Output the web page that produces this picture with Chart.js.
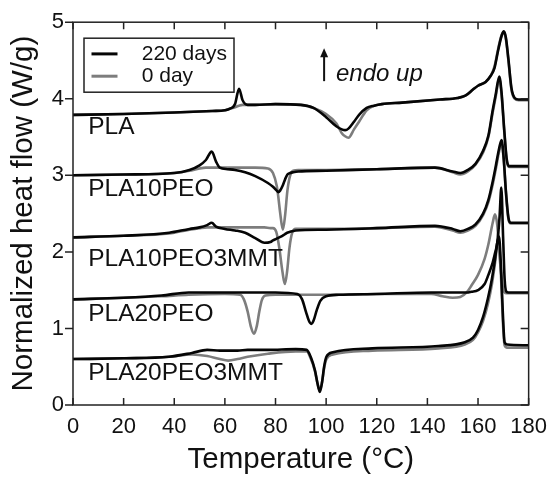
<!DOCTYPE html>
<html>
<head>
<meta charset="utf-8">
<script src="https://cdn.jsdelivr.net/npm/chart.js@4"></script>
<style>
  html, body { margin: 0; padding: 0; background: #fff; }
</style>
</head>
<body>
<canvas id="chart" width="556" height="478"></canvas>
<script>
// DSC 曲線資料 (溫度 °C / heat flow W/g)
const legendLabels = ['220 days', '0 day']
const sampleNames = ['PLA', 'PLA10PEO', 'PLA10PEO3MMT', 'PLA20PEO', 'PLA20PEO3MMT']

const tPLA = [0, 20, 40, 55, 60, 62, 64, 65.6, 67, 69, 72, 80, 90, 95, 100, 104, 106.2, 107.5, 108.8, 111,
  113, 116, 119, 122, 130, 145, 152, 155, 158, 160, 163, 165, 166.5, 168, 169.3, 170.2, 171, 172, 173.2, 174.5, 176, 180]
const pla220 = [3.79, 3.80, 3.82, 3.84, 3.85, 3.87, 3.93, 4.13, 3.98, 3.92, 3.92, 3.93, 3.92, 3.88, 3.76, 3.64, 3.60, 3.59, 3.61, 3.70,
  3.79, 3.88, 3.91, 3.93, 3.95, 3.99, 4.01, 4.04, 4.12, 4.17, 4.22, 4.30, 4.40, 4.64, 4.82, 4.88, 4.80, 4.52, 4.14, 4.01, 3.99, 3.99]
const pla0 = [3.79, 3.80, 3.82, 3.84, 3.85, 3.87, 3.89, 3.91, 3.92, 3.92, 3.92, 3.93, 3.92, 3.88, 3.80, 3.68, 3.55, 3.51, 3.49, 3.60,
  3.70, 3.85, 3.91, 3.93, 3.95, 3.99, 4.01, 4.04, 4.12, 4.17, 4.22, 4.30, 4.42, 4.66, 4.83, 4.87, 4.78, 4.50, 4.12, 4.00, 3.98, 3.98]

const tPEO10 = [0, 20, 40, 46, 50, 52.5, 54.8, 56.5, 58, 61, 64, 68, 72, 77, 79, 80.5, 81.1, 81.8, 82.9, 83.8,
  84.7, 85.8, 87, 89, 100, 120, 143, 150, 153, 156, 159, 162, 164.1, 165.8, 167, 168.4, 169.3, 170.3, 171.3, 172.2, 180]
const peo10_220 = [3.00, 3.01, 3.03, 3.07, 3.13, 3.20, 3.31, 3.18, 3.10, 3.08, 3.07, 3.04, 2.99, 2.90, 2.85, 2.80, 2.78, 2.80, 2.87, 2.95,
  3.01, 3.03, 3.04, 3.05, 3.06, 3.08, 3.10, 3.05, 3.03, 3.07, 3.15, 3.32, 3.52, 3.85, 4.06, 4.29, 4.08, 3.62, 3.22, 3.12, 3.12]
const peo10_0 = [3.00, 3.01, 3.03, 3.06, 3.09, 3.10, 3.10, 3.10, 3.10, 3.10, 3.10, 3.10, 3.10, 3.09, 3.03, 2.86, 2.72, 2.52, 2.29, 2.48,
  2.80, 3.00, 3.06, 3.07, 3.07, 3.08, 3.10, 3.04, 3.01, 3.05, 3.14, 3.30, 3.50, 3.82, 4.03, 4.26, 4.05, 3.60, 3.20, 3.11, 3.11]

const tPEO10M = [0, 20, 38, 46, 50, 53, 54.8, 56.5, 60, 64, 68, 72, 75.6, 78, 79, 80.3, 81.5, 82.7, 83.7, 84.6,
  85.5, 86.6, 88, 100, 120, 143, 150, 153, 156, 159, 162, 164.1, 165.8, 167, 168.4, 169.3, 170.2, 171, 172, 173, 180]
const peo10m_220 = [2.19, 2.21, 2.25, 2.30, 2.32, 2.35, 2.38, 2.33, 2.30, 2.28, 2.25, 2.18, 2.12, 2.13, 2.15, 2.17, 2.19, 2.21, 2.23, 2.25,
  2.26, 2.27, 2.28, 2.29, 2.31, 2.34, 2.30, 2.27, 2.30, 2.36, 2.50, 2.68, 2.92, 3.12, 3.36, 3.46, 3.20, 2.80, 2.45, 2.38, 2.38]
const peo10m_0 = [2.19, 2.21, 2.24, 2.29, 2.31, 2.32, 2.32, 2.32, 2.32, 2.32, 2.32, 2.32, 2.32, 2.31, 2.31, 2.26, 2.05, 1.75, 1.58, 1.75,
  2.05, 2.25, 2.30, 2.30, 2.31, 2.33, 2.28, 2.25, 2.28, 2.34, 2.48, 2.65, 2.88, 3.08, 3.32, 3.42, 3.18, 2.78, 2.43, 2.37, 2.37]

const tPEO20 = [0, 20, 35, 45.7, 60, 66, 67.5, 69, 70.3, 71.5, 72.6, 73.6, 74.6, 76, 80, 88.6, 90.5, 92, 93.2, 94.1,
  95, 96.3, 97.7, 100, 105, 120, 141.5, 146, 150, 153, 155.5, 157.4, 160, 162.6, 164.1, 165.8, 166.7, 167.6, 168.5, 169.2,
  169.9, 170.5, 171.2, 172, 180]
const peo20_220 = [1.38, 1.40, 1.43, 1.47, 1.47, 1.47, 1.47, 1.47, 1.47, 1.47, 1.47, 1.47, 1.47, 1.47, 1.47, 1.45, 1.38, 1.22, 1.10, 1.06,
  1.10, 1.24, 1.36, 1.42, 1.44, 1.45, 1.47, 1.47, 1.47, 1.47, 1.47, 1.48, 1.50, 1.58, 1.70, 1.86, 1.98, 2.12, 2.45, 2.84,
  2.20, 1.65, 1.48, 1.47, 1.47]
const peo20_0 = [1.38, 1.40, 1.42, 1.44, 1.45, 1.44, 1.38, 1.22, 1.02, 0.93, 1.03, 1.22, 1.37, 1.43, 1.44, 1.44, 1.44, 1.44, 1.44, 1.44,
  1.44, 1.44, 1.44, 1.44, 1.44, 1.45, 1.45, 1.42, 1.40, 1.41, 1.47, 1.56, 1.70, 1.91, 2.10, 2.38, 2.49, 2.35, 1.95, 1.70,
  1.52, 1.47, 1.46, 1.46, 1.46]

const tPEO20M = [0, 20, 37.9, 47, 53, 58, 61.3, 65, 69, 77, 88, 92.3, 94, 95.6, 96.6, 97.5, 98.4, 99.2, 100.1, 102.7,
  118.3, 144.4, 154.8, 158, 160, 162, 163.9, 165.5, 166.7, 167.6, 168.3, 169, 169.8, 170.5, 171.5, 180]
const peo20m_220 = [0.60, 0.61, 0.63, 0.68, 0.72, 0.71, 0.71, 0.71, 0.72, 0.72, 0.73, 0.72, 0.62, 0.45, 0.28, 0.17, 0.30, 0.50, 0.63, 0.69,
  0.74, 0.77, 0.82, 0.88, 0.98, 1.15, 1.39, 1.65, 1.90, 2.12, 2.20, 1.85, 1.20, 0.82, 0.79, 0.78]
const peo20m_0 = [0.60, 0.61, 0.63, 0.66, 0.64, 0.60, 0.58, 0.60, 0.63, 0.67, 0.70, 0.70, 0.60, 0.44, 0.28, 0.19, 0.30, 0.48, 0.60, 0.66,
  0.71, 0.74, 0.79, 0.85, 0.95, 1.10, 1.32, 1.58, 1.85, 2.08, 2.10, 1.75, 1.10, 0.78, 0.75, 0.75]

// 標籤位置 (資料座標)
const nameLabelX = 6
const nameLabelY = [3.63, 2.82, 1.91, 1.19, 0.41]

const samples = [
  {t: tPLA, aged: pla220, fresh: pla0},
  {t: tPEO10, aged: peo10_220, fresh: peo10_0},
  {t: tPEO10M, aged: peo10m_220, fresh: peo10m_0},
  {t: tPEO20, aged: peo20_220, fresh: peo20_0},
  {t: tPEO20M, aged: peo20m_220, fresh: peo20m_0}
]

function pts(t, v){
  return t.map((x, i) => ({x: x, y: v[i]}))
}

const datasets = []
samples.forEach((s, i) => {
  datasets.push({label: sampleNames[i] + ' ' + legendLabels[0], data: pts(s.t, s.aged), borderColor: '#050505', order: 0})
  datasets.push({label: sampleNames[i] + ' ' + legendLabels[1], data: pts(s.t, s.fresh), borderColor: '#7d7d7d', order: 1})
})

const FONT = '"Liberation Sans", Arial, Helvetica, sans-serif'
Chart.defaults.font.family = FONT
Chart.defaults.color = '#111'

// 外框 + 刻度
const frameTicks = {
  id: 'frameTicks',
  afterDatasetsDraw(chart){
    const {ctx, chartArea: a, scales: {x, y}} = chart
    ctx.save()
    ctx.strokeStyle = '#222'
    ctx.lineWidth = 1.5
    ctx.strokeRect(a.left, a.top, a.right - a.left, a.bottom - a.top)
    ctx.beginPath()
    x.ticks.forEach(t => {
      const px = x.getPixelForValue(t.value)
      ctx.moveTo(px, a.bottom); ctx.lineTo(px, a.bottom - 7)
      ctx.moveTo(px, a.top); ctx.lineTo(px, a.top + 7)
    })
    y.ticks.forEach(t => {
      const py = y.getPixelForValue(t.value)
      ctx.moveTo(a.left - 8, py); ctx.lineTo(a.left, py)
      ctx.moveTo(a.right, py); ctx.lineTo(a.right - 8, py)
    })
    ctx.stroke()
    ctx.restore()
  }
}

// 樣品名稱, endo up, 圖例
const annotations = {
  id: 'annotations',
  afterDraw(chart){
    const {ctx, chartArea: a, scales: {x, y}} = chart
    ctx.save()
    ctx.fillStyle = '#111'
    ctx.textAlign = 'left'
    ctx.textBaseline = 'middle'
    ctx.font = '24.5px ' + FONT
    sampleNames.forEach((n, i) => {
      ctx.fillText(n, x.getPixelForValue(nameLabelX), y.getPixelForValue(nameLabelY[i]))
    })
    // arrow
    const ax = x.getPixelForValue(99.2)
    const ay0 = y.getPixelForValue(4.23)
    const ay1 = y.getPixelForValue(4.66)
    ctx.strokeStyle = '#111'
    ctx.lineWidth = 2
    ctx.beginPath()
    ctx.moveTo(ax, ay0); ctx.lineTo(ax, ay1 + 6)
    ctx.stroke()
    ctx.beginPath()
    ctx.moveTo(ax, ay1); ctx.lineTo(ax - 4, ay1 + 9); ctx.lineTo(ax + 4, ay1 + 9); ctx.closePath()
    ctx.fill()
    ctx.font = 'italic 24px ' + FONT
    ctx.fillText('endo up', x.getPixelForValue(103.9), y.getPixelForValue(4.32))

    // legend box
    const lx = a.left + 11, ly = a.top + 16
    ctx.lineWidth = 1.5
    ctx.strokeStyle = '#222'
    ctx.strokeRect(lx, ly, 150, 54)
    ctx.font = '21px ' + FONT
    const cols = ['#050505', '#7d7d7d']
    legendLabels.forEach((l, i) => {
      const yy = ly + 15.7 + i * 22.3
      ctx.strokeStyle = cols[i]
      ctx.lineWidth = 3
      ctx.beginPath()
      ctx.moveTo(lx + 7.5, yy); ctx.lineTo(lx + 33.5, yy)
      ctx.stroke()
      ctx.fillText(l, lx + 57.7, yy)
    })
    ctx.restore()
  }
}

const ctx = document.getElementById('chart').getContext('2d')
const myChart = new Chart(ctx, {
  type: 'line',
  data: {datasets: datasets},
  options: {
    responsive: false,
    animation: false,
    devicePixelRatio: 1,
    layout: {padding: {top: 20, right: 22, left: 0, bottom: 0}},
    elements: {
      point: {radius: 0},
      line: {borderWidth: 2.6, cubicInterpolationMode: 'monotone', fill: false}
    },
    plugins: {legend: {display: false}, tooltip: {enabled: false}},
    scales: {
      x: {
        type: 'linear', min: 0, max: 180,
        ticks: {stepSize: 20, font: {size: 22}, padding: 9, color: '#111'},
        grid: {drawOnChartArea: false, drawTicks: false},
        border: {display: false},
        title: {display: true, text: 'Temperature (°C)', font: {size: 29.5}, padding: {top: 0, bottom: 0}, color: '#111'},
        afterFit: s => { s.height = 73 }
      },
      y: {
        type: 'linear', min: 0, max: 5,
        ticks: {stepSize: 1, font: {size: 22}, padding: 9, color: '#111'},
        grid: {drawOnChartArea: false, drawTicks: false},
        border: {display: false},
        title: {display: true, text: 'Normalized heat flow (W/g)', font: {size: 29.5}, padding: {top: 6, bottom: 0}, color: '#111'},
        afterFit: s => { s.width = 73 }
      }
    }
  },
  plugins: [frameTicks, annotations]
})
</script>
</body>
</html>
